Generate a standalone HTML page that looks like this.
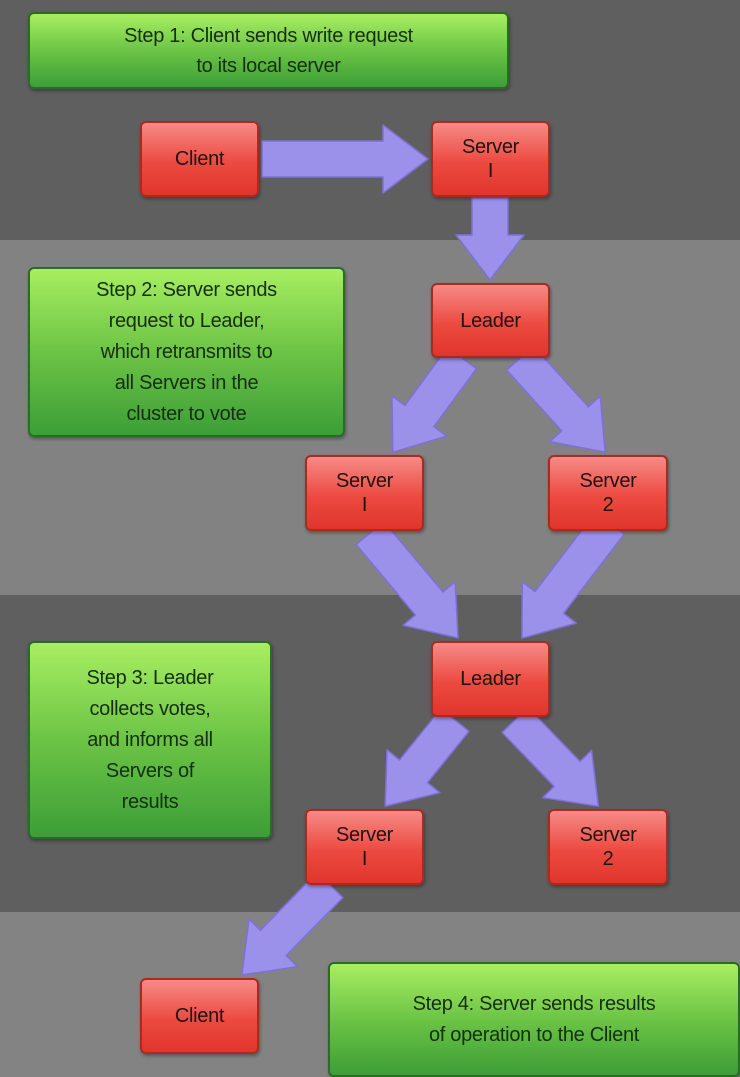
<!DOCTYPE html>
<html><head><meta charset="utf-8"><style>
body{margin:0;width:740px;height:1071px;overflow:hidden;position:relative;font-family:"Liberation Sans",sans-serif;background:#838383;}
.band{position:absolute;left:0;width:740px;}
.b{position:absolute;box-sizing:border-box;display:flex;align-items:center;justify-content:center;text-align:center;color:#1e1414;font-size:20px;line-height:24px;letter-spacing:-0.3px;}
.r{background:linear-gradient(#f68a86,#ec4a40 55%,#e0352c);border:2px solid #a82a22;border-radius:6px;box-shadow:1px 2px 3px rgba(0,0,0,.35);}
.g{background:linear-gradient(#a8ee62,#6cc445 50%,#3d9e38);border:2px solid #2c6a2a;border-radius:6px;color:#162e12;font-size:20px;line-height:31px;box-shadow:1px 2px 3px rgba(0,0,0,.35);}
svg{position:absolute;left:0;top:0;}
</style></head><body>
<div class="band" style="top:0;height:240px;background:#5f5f5f"></div>
<div class="band" style="top:240px;height:355px;background:#828282"></div>
<div class="band" style="top:595px;height:317px;background:#5f5f5f"></div>
<div class="band" style="top:912px;height:159px;background:#838383"></div>

<div class="b g" style="left:28px;top:12px;width:481px;height:77px;line-height:30px">Step 1: Client sends write request<br>to its local server</div>
<div class="b g" style="left:28px;top:267px;width:317px;height:170px">Step 2: Server sends<br>request to Leader,<br>which retransmits to<br>all Servers in the<br>cluster to vote</div>
<div class="b g" style="left:28px;top:641px;width:244px;height:198px">Step 3: Leader<br>collects votes,<br>and informs all<br>Servers of<br>results</div>
<div class="b g" style="left:328px;top:962px;width:412px;height:115px;line-height:31px">Step 4: Server sends results<br>of operation to the Client</div>

<svg width="740" height="1071">
<g fill="#9b90ea" stroke="#7e70d8" stroke-width="1.5" stroke-linejoin="round">
<g transform="translate(262,159) rotate(0)"><polygon points="0,-18 121,-18 121,-34 166,0 121,34 121,18 0,18"/></g>
<g transform="translate(490,198) rotate(90)"><polygon points="0,-18 37,-18 37,-34 82,0 37,34 37,18 0,18"/></g>
<g transform="translate(462,358) rotate(126.3)"><polygon points="0,-18 72,-18 72,-34 117,0 72,34 72,18 0,18"/></g>
<g transform="translate(520,358) rotate(47.9)"><polygon points="0,-18 82,-18 82,-34 127,0 82,34 82,18 0,18"/></g>
<g transform="translate(370,533) rotate(50)"><polygon points="0,-18 92,-18 92,-34 137,0 92,34 92,18 0,18"/></g>
<g transform="translate(610,523) rotate(127.4)"><polygon points="0,-18 100,-18 100,-34 145,0 100,34 100,18 0,18"/></g>
<g transform="translate(455,720) rotate(129)"><polygon points="0,-18 66,-18 66,-34 111,0 66,34 66,18 0,18"/></g>
<g transform="translate(515,720) rotate(46)"><polygon points="0,-18 75,-18 75,-34 120,0 75,34 75,18 0,18"/></g>
<g transform="translate(330,885) rotate(134.4)"><polygon points="0,-18 81,-18 81,-34 126,0 81,34 81,18 0,18"/></g>
</g>
</svg>

<div class="b r" style="left:140px;top:121px;width:119px;height:76px">Client</div>
<div class="b r" style="left:431px;top:121px;width:119px;height:76px">Server<br>I</div>
<div class="b r" style="left:431px;top:283px;width:119px;height:75px">Leader</div>
<div class="b r" style="left:305px;top:455px;width:119px;height:76px">Server<br>I</div>
<div class="b r" style="left:548px;top:455px;width:120px;height:76px">Server<br>2</div>
<div class="b r" style="left:431px;top:641px;width:119px;height:76px">Leader</div>
<div class="b r" style="left:305px;top:809px;width:119px;height:76px">Server<br>I</div>
<div class="b r" style="left:548px;top:809px;width:120px;height:76px">Server<br>2</div>
<div class="b r" style="left:140px;top:978px;width:119px;height:76px">Client</div>
</body></html>
